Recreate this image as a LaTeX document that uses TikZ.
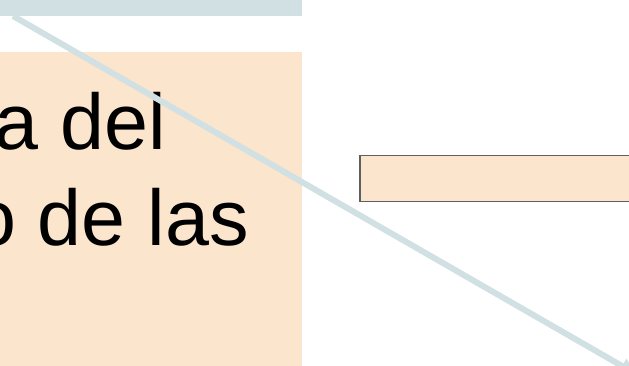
\documentclass[tikz,border=0pt]{standalone}
\usepackage{fontspec}
\setmainfont{Liberation Sans}
\usetikzlibrary{arrows.meta}
\definecolor{barblue}{HTML}{D0E0E3}
\definecolor{peach}{HTML}{FCE5CD}
\definecolor{edgegrey}{HTML}{5F5F5F}
\tikzset{
  bigtext/.style={inner sep=0pt, font=\fontsize{79}{95}\selectfont, text=black},
  conn/.style={draw=barblue, line width=6pt, -{Triangle[length=16pt,width=16pt]}},
}
\begin{document}
\begin{tikzpicture}[x=1pt,y=-1pt]
\useasboundingbox (0,0) rectangle (629,366);
\clip (0,0) rectangle (629,366);
\fill[barblue] (0,-5) rectangle (302,16);
\fill[peach] (0,52) rectangle (302,375);
\node[bigtext, anchor=base east] (l1) at (166,150) {a del};
\node[bigtext, anchor=base east] (l2) at (249,245) {o de las};
\node[draw=edgegrey, line width=1.5pt, fill=peach, minimum width=300pt, minimum height=46pt, anchor=north west, inner sep=0pt] (small) at (359,155) {};
\coordinate (s) at (13,16);
\coordinate (e) at (636,374);
\draw[conn] (s) -- (e);
\end{tikzpicture}
\end{document}
